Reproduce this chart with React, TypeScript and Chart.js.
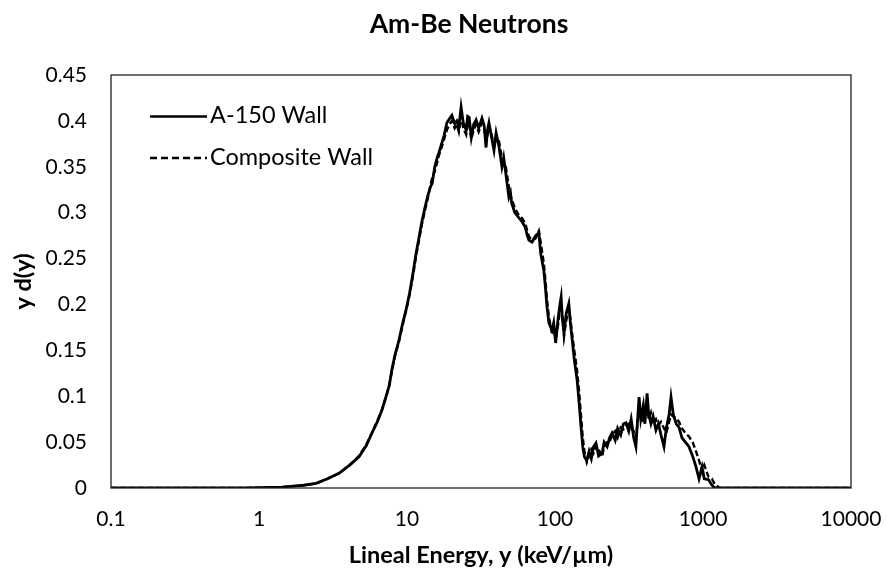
import React, { useEffect, useRef } from "react";
import { Chart, registerables } from "chart.js";

Chart.register(...registerables);

const energies = [
  0.1, 0.2, 0.5, 0.8, 1.0, 1.2, 1.43, 1.7, 2.0, 2.43,
  2.9, 3.47, 4.1, 4.74, 5.3, 5.8, 6.3, 6.78, 7.32, 7.6,
  7.92, 8.3, 8.83, 9.3, 9.85, 10.4, 11.0, 11.5, 12.05, 12.6,
  13.2, 13.8, 14.4, 14.8, 15.4, 16.0, 16.4, 17.2, 17.8, 18.6,
  19.3, 20.1, 21.0, 21.7, 22.4, 23.2, 24.0, 25.1, 25.7, 26.3,
  27.2, 28.2, 29.3, 30.5, 32.1, 33.2, 34.2, 35.0, 35.8, 37.0,
  38.7, 40.0, 41.8, 43.8, 45.0, 46.5, 48.8, 50, 51, 53.5,
  56.6, 60, 63, 65, 66.7, 70, 74, 77.8, 80, 84,
  86, 88.3, 91, 95.5, 98, 101, 105, 108, 110, 112,
  115, 119, 124, 127, 130, 135, 141, 146, 150, 154,
  158, 164, 170, 176, 182, 189, 197, 208, 215, 225,
  234, 243, 255, 265, 278, 290, 302, 315, 327, 340,
  352, 360, 370, 380, 395, 405, 419, 430, 445, 460,
  481, 500, 520, 545, 565, 590, 608, 630, 660, 689,
  720, 760, 804, 850, 897, 940, 985, 1020, 1090, 1150,
  1200, 1300, 2000, 10000,
];

const a150Wall = [
  0, 0, 0, 0.0001, 0.0003, 0.0006, 0.001, 0.002, 0.003, 0.005,
  0.010, 0.016, 0.025, 0.034, 0.046, 0.060, 0.072, 0.085, 0.103, 0.112,
  0.130, 0.145, 0.161, 0.178, 0.194, 0.212, 0.235, 0.255, 0.273, 0.290,
  0.305, 0.318, 0.328, 0.332, 0.350, 0.360, 0.365, 0.376, 0.384, 0.398,
  0.402, 0.406, 0.397, 0.400, 0.393, 0.415, 0.398, 0.390, 0.405, 0.404,
  0.382, 0.396, 0.401, 0.392, 0.403, 0.395, 0.371, 0.390, 0.398, 0.385,
  0.368, 0.387, 0.372, 0.350, 0.360, 0.343, 0.317, 0.322, 0.310, 0.300,
  0.295, 0.290, 0.284, 0.275, 0.270, 0.268, 0.275, 0.278, 0.256, 0.237,
  0.220, 0.197, 0.180, 0.172, 0.180, 0.158, 0.185, 0.200, 0.208, 0.185,
  0.169, 0.190, 0.201, 0.180, 0.165, 0.140, 0.118, 0.090, 0.066, 0.045,
  0.034, 0.030, 0.040, 0.032, 0.045, 0.049, 0.035, 0.038, 0.050, 0.045,
  0.055, 0.060, 0.052, 0.065, 0.058, 0.070, 0.071, 0.062, 0.075, 0.055,
  0.045, 0.070, 0.099, 0.075, 0.090, 0.070, 0.103, 0.080, 0.070, 0.078,
  0.063, 0.070, 0.058, 0.045, 0.065, 0.080, 0.099, 0.080, 0.070, 0.066,
  0.055, 0.050, 0.045, 0.035, 0.023, 0.010, 0.023, 0.010, 0.009, 0.003,
  0, 0, 0, 0,
];

const compositeWall = [
  0, 0, 0, 0.0001, 0.0003, 0.0006, 0.001, 0.002, 0.003, 0.005,
  0.010, 0.016, 0.025, 0.035, 0.047, 0.060, 0.073, 0.086, 0.102, 0.113,
  0.128, 0.144, 0.160, 0.176, 0.193, 0.210, 0.232, 0.252, 0.270, 0.287,
  0.302, 0.315, 0.330, 0.338, 0.345, 0.355, 0.362, 0.372, 0.380, 0.390,
  0.396, 0.400, 0.392, 0.396, 0.388, 0.405, 0.392, 0.385, 0.398, 0.397,
  0.380, 0.390, 0.396, 0.388, 0.398, 0.392, 0.378, 0.385, 0.394, 0.388,
  0.372, 0.382, 0.378, 0.360, 0.355, 0.350, 0.328, 0.318, 0.315, 0.305,
  0.298, 0.294, 0.288, 0.280, 0.274, 0.270, 0.272, 0.280, 0.268, 0.245,
  0.228, 0.205, 0.186, 0.168, 0.175, 0.162, 0.178, 0.195, 0.200, 0.190,
  0.165, 0.182, 0.195, 0.185, 0.170, 0.150, 0.128, 0.102, 0.078, 0.055,
  0.040, 0.028, 0.035, 0.042, 0.038, 0.046, 0.042, 0.034, 0.045, 0.050,
  0.050, 0.058, 0.062, 0.055, 0.066, 0.064, 0.068, 0.070, 0.065, 0.062,
  0.055, 0.068, 0.085, 0.080, 0.072, 0.085, 0.088, 0.075, 0.082, 0.070,
  0.075, 0.068, 0.072, 0.065, 0.060, 0.072, 0.080, 0.078, 0.076, 0.072,
  0.065, 0.060, 0.056, 0.050, 0.040, 0.030, 0.018, 0.025, 0.012, 0.010,
  0.004, 0, 0, 0,
];

const xTicks = [0.1, 1, 10, 100, 1000, 10000];
const xTickLabels = ["0.1", "1", "10", "100", "1000", "10000"];
const seriesNames = ["A-150 Wall", "Composite Wall"];
const chartTitle = "Am-Be Neutrons";
const xTitle = "Lineal Energy, y (keV/\u00b5m)";
const yTitle = "y d(y)";

const FONT = "Lato, 'Open Sans', sans-serif";

const decorations = {
  id: "decorations",
  afterDraw(chart: any) {
    const { ctx, chartArea } = chart;
    const { left, right, top, bottom } = chartArea;
    ctx.save();
    // frame
    ctx.strokeStyle = "#222";
    ctx.lineWidth = 1.3;
    ctx.setLineDash([]);
    ctx.strokeRect(left, top, right - left, bottom - top);
    ctx.fillStyle = "#000";
    // title
    ctx.font = `bold 26.5px ${FONT}`;
    ctx.textAlign = "center";
    ctx.textBaseline = "alphabetic";
    ctx.fillText(chartTitle, 469, 33);
    // x title
    ctx.font = `bold 23.5px ${FONT}`;
    ctx.fillText(xTitle, (left + right) / 2, 563);
    // y title
    ctx.save();
    ctx.translate(31, (top + bottom) / 2);
    ctx.rotate(-Math.PI / 2);
    ctx.fillText(yTitle, 0, 0);
    ctx.restore();
    // legend
    const items = [
      { ly: top + 41.5, ty: top + 48, dash: [] as number[] },
      { ly: top + 83, ty: top + 90, dash: [7, 4] },
    ];
    items.forEach((it, i) => {
      ctx.beginPath();
      ctx.setLineDash(it.dash);
      ctx.lineWidth = 2.6;
      ctx.strokeStyle = "#000";
      ctx.moveTo(left + 39, it.ly);
      ctx.lineTo(left + 96, it.ly);
      ctx.stroke();
      ctx.setLineDash([]);
      ctx.font = `23.5px ${FONT}`;
      ctx.textAlign = "left";
      ctx.textBaseline = "alphabetic";
      ctx.fillText(seriesNames[i], left + 99, it.ty);
    });
    ctx.restore();
  },
};

export default function App() {
  const ref = useRef<HTMLCanvasElement | null>(null);
  useEffect(() => {
    if (!ref.current) return;
    const chart = new Chart(ref.current, {
      type: "line",
      data: {
        datasets: [
          {
            label: seriesNames[0],
            data: energies.map((x, i) => ({ x, y: a150Wall[i] })),
            borderColor: "#000",
            borderWidth: 2.8,
            pointRadius: 0,
            tension: 0,
            fill: false,
          },
          {
            label: seriesNames[1],
            data: energies.map((x, i) => ({ x, y: compositeWall[i] })),
            borderColor: "#000",
            borderWidth: 2.4,
            borderDash: [6, 3],
            pointRadius: 0,
            tension: 0,
            fill: false,
          },
        ],
      },
      options: {
        responsive: false,
        animation: false,
        layout: { padding: { left: 0, right: 35, top: 75, bottom: 0 } },
        plugins: {
          legend: { display: false },
          tooltip: { enabled: false },
          title: { display: false },
        },
        scales: {
          x: {
            type: "logarithmic",
            min: 0.1,
            max: 10000,
            grid: { display: false, drawTicks: false },
            border: { display: false },
            afterBuildTicks: (scale: any) => {
              scale.ticks = xTicks.map((v) => ({ value: v }));
            },
            afterFit: (scale: any) => {
              scale.height = 83;
              scale.paddingLeft = 0;
              scale.paddingRight = 0;
            },
            ticks: {
              color: "#000",
              padding: 19,
              maxRotation: 0,
              autoSkip: false,
              font: { family: FONT, size: 21 },
              callback: (v: any) => {
                const i = xTicks.indexOf(Number(v));
                return i >= 0 ? xTickLabels[i] : "";
              },
            },
          },
          y: {
            min: 0,
            max: 0.45,
            grid: { display: false, drawTicks: false },
            border: { display: false },
            afterFit: (scale: any) => {
              scale.width = 111;
              scale.paddingTop = 0;
              scale.paddingBottom = 0;
            },
            ticks: {
              stepSize: 0.05,
              color: "#000",
              padding: 24,
              font: { family: FONT, size: 21 },
              callback: (v: any) => String(Number(Number(v).toFixed(2))),
            },
          },
        },
      },
      plugins: [decorations],
    });
    return () => chart.destroy();
  }, []);
  return (
    <div style={{ position: "fixed", left: 0, top: 0, width: 886, height: 571, background: "#fff" }}>
      <canvas ref={ref} width={886} height={571} />
    </div>
  );
}
